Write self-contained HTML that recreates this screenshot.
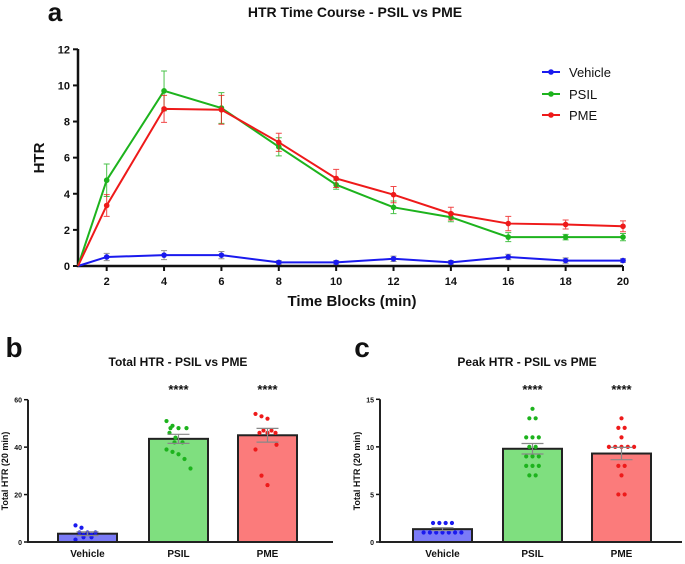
<!DOCTYPE html>
<html><head><meta charset="utf-8"><style>
body{margin:0;background:#fff;width:685px;height:559px;overflow:hidden}
svg{font-family:"Liberation Sans",Arial,sans-serif;font-weight:bold}
</style></head><body>
<svg id="s" width="685" height="559" xmlns="http://www.w3.org/2000/svg"></svg>
<script>
// Panel a data
const times=[1,2,4,6,8,10,12,14,16,18,20];
const vehicleVals=[0,0.5,0.6,0.6,0.2,0.2,0.4,0.2,0.5,0.3,0.3];
const vehicleErr=[0,0.2,0.25,0.2,0.1,0.1,0.15,0.1,0.15,0.15,0.1];
const psilVals=[0,4.75,9.7,8.75,6.6,4.5,3.25,2.7,1.6,1.6,1.6];
const psilErr=[0,0.9,1.1,0.85,0.5,0.25,0.35,0.25,0.25,0.15,0.2];
const pmeVals=[0,3.35,8.7,8.65,6.85,4.85,3.95,2.9,2.35,2.3,2.2];
const pmeErr=[0,0.6,0.75,0.8,0.5,0.5,0.45,0.35,0.4,0.25,0.3];
const aXTicks=[2,4,6,8,10,12,14,16,18,20];
const aYTicks=[0,2,4,6,8,10,12];
// Panel b data
const groups=["Vehicle","PSIL","PME"];
const totalMeans=[3.5,43.5,45];
const totalSem=[0.8,1.9,2.9];
const totalVehiclePts=[7,6,4,4,4,3,3,2,2,1];
const totalPsilPts=[51,49,48,48,48,46,44,42,42,39,38,37,35,31];
const totalPmePts=[54,53,52,47,47,46,46,46,41,39,28,24];
const bYTicks=[0,20,40,60];
// Panel c data
const peakMeans=[1.35,9.8,9.3];
const peakSem=[0.15,0.55,0.65];
const peakVehiclePts=[2,2,2,2,1,1,1,1,1,1,1];
const peakPsilPts=[14,13,13,11,11,11,10,10,9,9,9,8,8,8,7,7];
const peakPmePts=[13,12,12,11,10,10,10,10,10,8,8,7,5,5];
const cYTicks=[0,5,10,15];

const S=document.getElementById('s');const NS="http://www.w3.org/2000/svg";
function mk(t,a,p){const e=document.createElementNS(NS,t);for(const k in a)e.setAttribute(k,a[k]);(p||S).appendChild(e);return e;}
function tx(x,y,s,size,anchor,extra){const e=mk('text',Object.assign({x:x,y:y,'font-size':size,'text-anchor':anchor||'middle',fill:'#111'},extra||{}));e.textContent=s;return e;}

// ---------- Panel a ----------
const ax=t=>78+(t-1)*(623-78)/19;
const ay=v=>266-v*(266-49.3)/12;
let e;
e=tx(55,21,'a',26,'middle');
e=tx(355,17,'HTR Time Course - PSIL vs PME',14,'middle');
e=mk('path',{d:`M78 49V266H623`,stroke:'#111','stroke-width':2.5,fill:'none'});
aYTicks.forEach(v=>{mk('line',{x1:73,x2:78,y1:ay(v),y2:ay(v),stroke:'#111','stroke-width':2});e=tx(70,ay(v)+4,String(v),11,'end');});
aXTicks.forEach(t=>{mk('line',{x1:ax(t),x2:ax(t),y1:266,y2:271,stroke:'#111','stroke-width':2});e=tx(ax(t),285,String(t),11,'middle');});
e=tx(352,306,'Time Blocks (min)',15,'middle');
e=tx(44,158,'HTR',15,'middle',{transform:'rotate(-90 44 158)'});
const series=[["vehicle",vehicleVals,vehicleErr,"#1a1aee","#777"],["psil",psilVals,psilErr,"#1db31d","#1db31d"],["pme",pmeVals,pmeErr,"#ee1a1a","#ee1a1a"]];
series.forEach(([n,vals,errs,c,ec])=>{
  const g=mk('g',{});
  vals.forEach((v,i)=>{if(errs[i]>0){const x=ax(times[i]);mk('path',{d:`M${x} ${ay(v-errs[i])}V${ay(v+errs[i])}M${x-3} ${ay(v-errs[i])}h6M${x-3} ${ay(v+errs[i])}h6`,stroke:ec,'stroke-width':1,fill:'none',opacity:0.8},g);}});
  mk('polyline',{points:vals.map((v,i)=>ax(times[i])+','+ay(v)).join(' '),stroke:c,'stroke-width':2,fill:'none'},g);
  vals.forEach((v,i)=>{if(i>0){const p=mk('circle',{cx:ax(times[i]),cy:ay(v),r:2.8,fill:c},g);}});
});
[["Vehicle","#1a1aee",72],["PSIL","#1db31d",94],["PME","#ee1a1a",115]].forEach(([l,c,y])=>{
  const g=mk('g',{});
  mk('line',{x1:542,x2:560,y1:y,y2:y,stroke:c,'stroke-width':2},g);mk('circle',{cx:551,cy:y,r:2.8,fill:c},g);
  const t=mk('text',{x:569,y:y+5,'font-size':13,'font-weight':'normal',fill:'#111'},g);t.textContent=l;
});

// ---------- Bar panels ----------
const fills=["#7b7bf7","#7fdf7f","#fb7b7b"];const dots=["#1a1aee","#1db31d","#ee1a1a"];
const spread=[-12,-6,0,6,12,-9,-3,3,9];
function barPanel(o){
  const y=v=>542-v*(542-o.ytop)/o.max;
  let e=tx(o.lx,357,o.letter,28,'middle');
  e=tx(o.tcx,366,o.title,12,'middle');
  e=tx(o.axx-20,471,'Total HTR (20 min)',9,'middle',{transform:`rotate(-90 ${o.axx-20} 471)`});
  o.yt.forEach(v=>{mk('line',{x1:o.axx-4,x2:o.axx,y1:y(v),y2:y(v),stroke:'#111','stroke-width':1.5});e=tx(o.axx-6,y(v)+3,String(v),7,'end');});
  o.means.forEach((m,i)=>{
    const x0=o.bx[i],w=59,cx=x0+w/2;
    const b=mk('rect',{x:x0,y:y(m),width:w,height:542-y(m),fill:fills[i],stroke:'#222','stroke-width':2});
    const pts=o.pts[i];const counts={};pts.forEach(v=>counts[v]=(counts[v]||0)+1);const seen={};
    pts.forEach((v,j)=>{const n=counts[v];const k=seen[v]=(seen[v]||0);seen[v]++;
      const px=o.grid?cx+(k-(n-1)/2)*6.3:(n>1?cx+(k-(n-1)/2)*8:cx+spread[j%spread.length]);
      const d=mk('circle',{cx:px,cy:y(v),r:2.1,fill:dots[i]});});
    const s=o.sem[i];
    mk('path',{d:`M${cx} ${y(m-s)}V${y(m+s)}M${cx-11} ${y(m-s)}h22M${cx-11} ${y(m+s)}h22`,stroke:'#888','stroke-width':1.2,fill:'none'});
    e=tx(cx,557,groups[i],10,'middle');
    if(i>0){e=tx(cx,394,'****',13,'middle');}
  });
  e=mk('path',{d:`M${o.axx} ${o.ytop}V542H${o.xend}`,stroke:'#222','stroke-width':2,fill:'none'});
}
barPanel({letter:'b',lx:14,tcx:178,title:'Total HTR - PSIL vs PME',axx:28,ytop:399.7,max:60,yt:bYTicks,means:totalMeans,sem:totalSem,pts:[totalVehiclePts,totalPsilPts,totalPmePts],bx:[58,149,238],xend:333,grid:false});
barPanel({letter:'c',lx:362,tcx:527,title:'Peak HTR - PSIL vs PME',axx:380,ytop:399.3,max:15,yt:cYTicks,means:peakMeans,sem:peakSem,pts:[peakVehiclePts,peakPsilPts,peakPmePts],bx:[413,503,592],xend:682,grid:true});
</script>
</body></html>
